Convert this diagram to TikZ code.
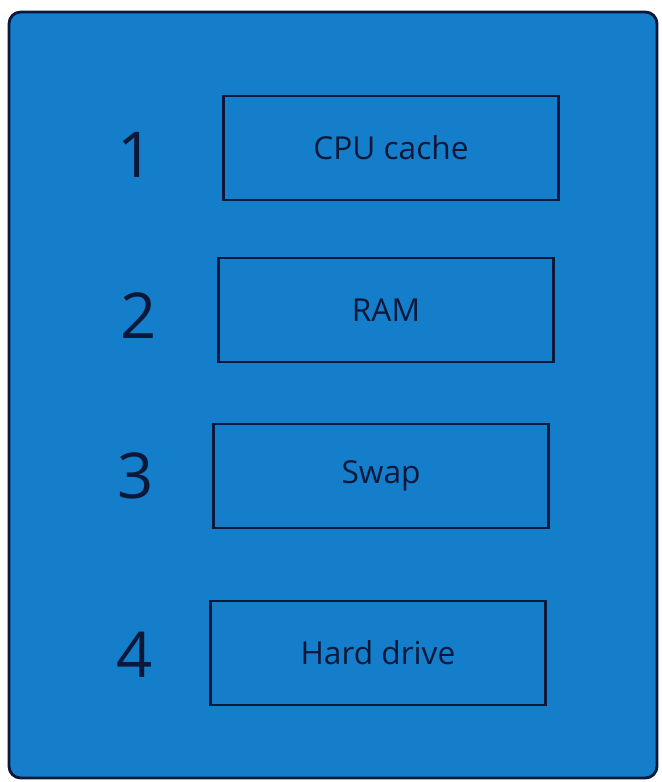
\documentclass[tikz,border=0pt]{standalone}
\usepackage{fontspec}
\setmainfont{Open Sans}
\usepackage{tikz}
\definecolor{panelblue}{RGB}{20,126,202}
\definecolor{navy}{RGB}{12,24,58}

\begin{document}
\begin{tikzpicture}[x=0.03cm,y=-0.03cm,
    levelbox/.style={draw=navy,line width=2.3pt,minimum width=10.05cm,minimum height=3.12cm,
      text=navy,font=\fontsize{27}{32}\selectfont},
    levelnum/.style={text=navy,font=\fontsize{54}{60}\selectfont}]
  \useasboundingbox (0,0) rectangle (661,782);
  \fill[white] (0,0) rectangle (661,782);
  % panel
  \draw[fill=panelblue,draw=navy,line width=2.4pt,rounded corners=0.35cm] (9,12) rectangle (657,778);
  % memory levels
  \node[levelbox] (cache) at (391,148) {CPU cache};
  \node[levelbox] (ram)   at (386,310) {RAM};
  \node[levelbox] (swap)  at (381,476) {Swap};
  \node[levelbox] (hdd)   at (378,653) {Hard drive};
  \node[levelnum] (n1) at (136,155) {1};
  \node[levelnum] (n2) at (139,316) {2};
  \node[levelnum] (n3) at (136,476) {3};
  \node[levelnum] (n4) at (135,655) {4};
\end{tikzpicture}
\end{document}
